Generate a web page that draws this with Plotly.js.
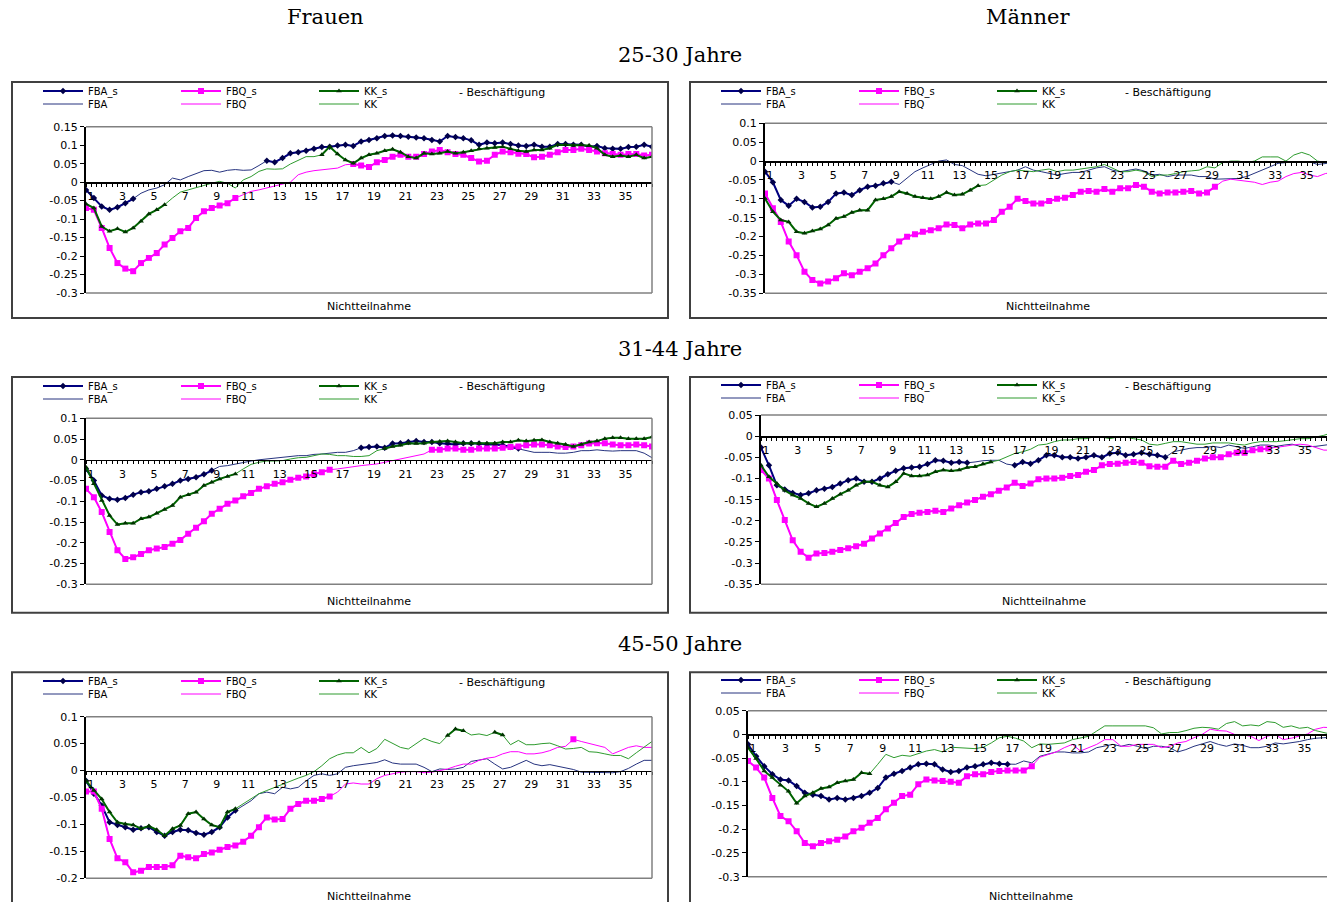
<!DOCTYPE html>
<html><head><meta charset="utf-8">
<script src="https://cdn.plot.ly/plotly-3.0.1.min.js"></script>
<style>html,body{margin:0;padding:0;background:#fff;} #chart{width:1327px;height:902px;}</style>
</head><body><div id="chart"></div>
<script>
// x positions (months of non-participation)
const months = [1,1.5,2,2.5,3,3.5,4,4.5,5,5.5,6,6.5,7,7.5,8,8.5,9,9.5,10,10.5,11,11.5,12,12.5,13,13.5,14,14.5,15,15.5,16,16.5,17,17.5,18,18.5,19,19.5,20,20.5,21,21.5,22,22.5,23,23.5,24,24.5,25,25.5,26,26.5,27,27.5,28,28.5,29,29.5,30,30.5,31,31.5,32,32.5,33,33.5,34,34.5,35,35.5,36,36.5,37];
const xTickVals = [1,3,5,7,9,11,13,15,17,19,21,23,25,27,29,31,33,35];
const xTickText = ['1','3','5','7','9','11','13','15','17','19','21','23','25','27','29','31','33','35'];

// ---- Frauen 25-30 ----
const A_FBA = [
-0.021,-0.043,-0.066,-0.075,-0.068,-0.057,-0.045,-0.030,
-0.021,-0.016,-0.007,0.011,0.006,0.015,0.023,0.031,
0.032,0.027,0.032,0.034,0.032,0.033,0.045,0.058,
0.054,0.065,0.078,0.081,0.085,0.090,0.095,0.096,
0.099,0.101,0.098,0.110,0.114,0.119,0.125,0.126,
0.125,0.123,0.121,0.119,0.114,0.110,0.125,0.122,
0.119,0.113,0.101,0.107,0.105,0.107,0.103,0.099,
0.098,0.101,0.096,0.096,0.103,0.103,0.101,0.101,
0.096,0.098,0.092,0.090,0.090,0.095,0.096,0.101,
0.096];
const A_FBQ = [
-0.070,-0.075,-0.124,-0.178,-0.219,-0.234,-0.241,-0.219,
-0.205,-0.192,-0.169,-0.151,-0.133,-0.124,-0.097,-0.079,
-0.070,-0.063,-0.057,-0.043,-0.034,-0.025,-0.021,-0.016,
-0.012,-0.005,0.000,0.020,0.027,0.031,0.033,0.036,
0.038,0.047,0.049,0.045,0.041,0.054,0.060,0.069,
0.074,0.069,0.069,0.076,0.083,0.087,0.081,0.076,
0.074,0.065,0.056,0.058,0.074,0.083,0.081,0.077,
0.076,0.067,0.069,0.074,0.081,0.087,0.087,0.090,
0.087,0.083,0.078,0.076,0.074,0.076,0.076,0.072,
0.074];
const A_KK = [
-0.059,-0.070,-0.120,-0.133,-0.126,-0.135,-0.124,-0.106,
-0.086,-0.075,-0.061,-0.043,-0.027,-0.021,-0.016,-0.009,
-0.003,0.002,-0.003,-0.016,0.006,0.015,0.029,0.036,
0.035,0.036,0.049,0.058,0.069,0.069,0.074,0.096,
0.076,0.060,0.051,0.065,0.074,0.078,0.085,0.089,
0.081,0.069,0.065,0.078,0.076,0.078,0.083,0.078,
0.081,0.085,0.090,0.092,0.094,0.096,0.090,0.085,
0.083,0.087,0.087,0.092,0.101,0.101,0.099,0.101,
0.099,0.092,0.074,0.069,0.072,0.069,0.074,0.065,
0.069];
const A_FBA_sig = [[1,4],[12.5,37]];
const A_FBQ_sig = [[1,10.5],[18,37]];
const A_KK_sig  = [[1,6],[16,37]];

// ---- Männer 25-30 ----
const B_FBA = [
-0.028,-0.056,-0.103,-0.118,-0.100,-0.108,-0.123,-0.121,
-0.108,-0.086,-0.083,-0.090,-0.077,-0.068,-0.065,-0.059,
-0.055,-0.062,-0.046,-0.028,-0.018,-0.009,0.000,0.003,
-0.009,-0.012,-0.024,-0.035,-0.039,-0.035,-0.033,-0.028,
-0.024,-0.015,-0.024,-0.028,-0.033,-0.037,-0.033,-0.030,
-0.030,-0.024,-0.018,-0.015,-0.024,-0.028,-0.024,-0.021,
-0.026,-0.037,-0.035,-0.041,-0.037,-0.037,-0.037,-0.041,
-0.041,-0.048,-0.048,-0.048,-0.046,-0.041,-0.033,-0.024,
-0.015,-0.006,-0.004,-0.002,-0.004,-0.002,-0.009,-0.006,
-0.004];
const B_FBQ = [
-0.086,-0.125,-0.161,-0.213,-0.249,-0.293,-0.315,-0.324,
-0.319,-0.310,-0.297,-0.302,-0.293,-0.284,-0.271,-0.249,
-0.231,-0.213,-0.200,-0.194,-0.187,-0.183,-0.178,-0.168,
-0.169,-0.178,-0.168,-0.165,-0.165,-0.156,-0.134,-0.121,
-0.100,-0.106,-0.112,-0.112,-0.106,-0.100,-0.097,-0.090,
-0.081,-0.079,-0.081,-0.074,-0.081,-0.072,-0.072,-0.063,
-0.068,-0.081,-0.086,-0.083,-0.083,-0.081,-0.079,-0.086,
-0.083,-0.068,-0.053,-0.048,-0.050,-0.053,-0.056,-0.062,
-0.056,-0.053,-0.041,-0.033,-0.030,-0.037,-0.041,-0.033,
-0.030];
const B_KK = [
-0.099,-0.134,-0.156,-0.161,-0.187,-0.191,-0.185,-0.180,
-0.169,-0.152,-0.147,-0.136,-0.130,-0.130,-0.103,-0.100,
-0.094,-0.081,-0.086,-0.094,-0.097,-0.100,-0.094,-0.083,
-0.090,-0.088,-0.077,-0.065,-0.063,-0.050,-0.037,-0.028,
-0.024,-0.026,-0.028,-0.024,-0.021,-0.028,-0.024,-0.024,
-0.021,-0.018,-0.015,-0.009,-0.018,-0.028,-0.028,-0.024,
-0.028,-0.041,-0.037,-0.037,-0.033,-0.028,-0.026,-0.024,
-0.015,-0.018,-0.004,0.000,0.000,-0.004,0.000,0.011,
0.011,0.011,0.000,0.016,0.023,0.016,0.000,-0.004,
-0.004];
const B_FBA_sig = [[1,9]];
const B_FBQ_sig = [[1,29.5]];
const B_KK_sig  = [[1,14.5]];

// ---- Frauen 31-44 ----
const C_FBA = [
-0.022,-0.050,-0.086,-0.094,-0.096,-0.092,-0.084,-0.078,
-0.076,-0.070,-0.064,-0.058,-0.050,-0.046,-0.042,-0.035,
-0.026,-0.016,-0.014,-0.010,-0.006,-0.003,0.000,0.002,
0.004,0.006,0.008,0.010,0.010,0.013,0.014,0.016,
0.018,0.018,0.022,0.029,0.031,0.032,0.029,0.039,
0.040,0.043,0.045,0.043,0.043,0.040,0.039,0.037,
0.040,0.040,0.039,0.037,0.037,0.035,0.031,0.027,
0.022,0.018,0.018,0.018,0.016,0.016,0.018,0.022,
0.022,0.024,0.022,0.021,0.022,0.022,0.022,0.016,
0.005];
const C_FBQ = [
-0.070,-0.090,-0.126,-0.174,-0.218,-0.239,-0.235,-0.227,
-0.218,-0.214,-0.210,-0.202,-0.193,-0.178,-0.164,-0.148,
-0.130,-0.118,-0.106,-0.098,-0.088,-0.080,-0.070,-0.064,
-0.058,-0.054,-0.048,-0.043,-0.040,-0.035,-0.030,-0.024,
-0.022,-0.019,-0.016,-0.014,-0.012,-0.010,-0.006,-0.002,
0.002,0.006,0.010,0.014,0.024,0.024,0.027,0.027,
0.024,0.024,0.027,0.027,0.027,0.029,0.031,0.032,
0.035,0.037,0.037,0.035,0.032,0.031,0.032,0.035,
0.039,0.040,0.040,0.037,0.035,0.035,0.037,0.035,
0.032];
const C_KK = [
-0.018,-0.058,-0.098,-0.134,-0.156,-0.153,-0.153,-0.142,
-0.138,-0.129,-0.120,-0.110,-0.090,-0.084,-0.078,-0.062,
-0.054,-0.046,-0.040,-0.034,-0.022,-0.011,-0.006,-0.003,
-0.003,-0.002,0.002,0.005,0.006,0.010,0.014,0.013,
0.010,0.010,0.008,0.008,0.010,0.022,0.027,0.032,
0.035,0.040,0.039,0.040,0.043,0.044,0.045,0.043,
0.040,0.040,0.040,0.040,0.040,0.043,0.043,0.047,
0.045,0.047,0.048,0.043,0.040,0.037,0.032,0.037,
0.043,0.045,0.051,0.053,0.053,0.051,0.051,0.051,
0.055];
const C_FBA_sig = [[1,9],[18.5,28.5]];
const C_FBQ_sig = [[1,16.5],[23,37]];
const C_KK_sig  = [[1,10.5],[20,37]];

// ---- Männer 31-44 ----
const D_FBA = [
-0.027,-0.069,-0.116,-0.126,-0.134,-0.139,-0.135,-0.128,
-0.124,-0.120,-0.112,-0.104,-0.100,-0.108,-0.108,-0.100,
-0.090,-0.082,-0.076,-0.074,-0.072,-0.066,-0.057,-0.058,
-0.063,-0.061,-0.063,-0.061,-0.058,-0.057,-0.057,-0.066,
-0.069,-0.061,-0.065,-0.057,-0.045,-0.045,-0.050,-0.050,
-0.053,-0.050,-0.045,-0.050,-0.041,-0.039,-0.045,-0.043,
-0.039,-0.043,-0.045,-0.050,-0.037,-0.033,-0.029,-0.027,
-0.027,-0.024,-0.027,-0.021,-0.025,-0.029,-0.025,-0.021,
-0.021,-0.024,-0.021,-0.019,-0.024,-0.025,-0.024,-0.021,
-0.019];
const D_FBQ = [
-0.080,-0.100,-0.151,-0.198,-0.246,-0.273,-0.287,-0.277,
-0.276,-0.273,-0.269,-0.265,-0.260,-0.254,-0.242,-0.230,
-0.218,-0.205,-0.191,-0.184,-0.181,-0.179,-0.176,-0.179,
-0.171,-0.163,-0.157,-0.151,-0.143,-0.137,-0.129,-0.121,
-0.110,-0.118,-0.112,-0.102,-0.100,-0.100,-0.098,-0.094,
-0.092,-0.084,-0.080,-0.069,-0.066,-0.065,-0.063,-0.061,
-0.063,-0.071,-0.072,-0.072,-0.058,-0.066,-0.063,-0.058,
-0.053,-0.050,-0.050,-0.043,-0.039,-0.039,-0.033,-0.031,
-0.029,-0.027,-0.024,-0.021,-0.019,-0.021,-0.027,-0.033,
-0.033];
const D_KK = [
-0.069,-0.096,-0.112,-0.128,-0.139,-0.147,-0.159,-0.167,
-0.159,-0.147,-0.137,-0.128,-0.116,-0.108,-0.108,-0.116,
-0.120,-0.108,-0.088,-0.094,-0.094,-0.092,-0.084,-0.080,
-0.082,-0.080,-0.074,-0.072,-0.066,-0.061,-0.057,-0.049,
-0.041,-0.037,-0.031,-0.021,-0.019,-0.013,-0.009,-0.009,
-0.006,-0.006,-0.002,-0.002,-0.006,-0.002,-0.002,-0.006,
-0.009,-0.019,-0.021,-0.017,-0.013,-0.013,-0.016,-0.019,
-0.019,-0.016,-0.016,-0.016,-0.019,-0.021,-0.016,-0.013,
-0.013,-0.013,-0.011,-0.009,-0.006,-0.006,-0.002,0.002,
0.008];
const D_FBA_sig = [[1,14],[17,26.5]];
const D_FBQ_sig = [[1,33]];
const D_KK_sig  = [[1,15.5]];

// ---- Frauen 45-50 ----
const E_FBA = [
-0.019,-0.043,-0.065,-0.096,-0.101,-0.105,-0.110,-0.107,
-0.105,-0.114,-0.121,-0.114,-0.110,-0.111,-0.116,-0.119,
-0.114,-0.105,-0.087,-0.074,-0.065,-0.056,-0.043,-0.040,
-0.043,-0.031,-0.034,-0.031,-0.019,-0.009,-0.006,-0.009,
-0.006,0.006,0.009,0.011,0.012,0.015,0.020,0.014,
0.012,0.012,0.012,0.006,-0.002,0.003,0.002,0.003,
0.006,0.017,0.019,0.022,0.012,0.003,0.006,0.012,
0.019,0.012,0.009,0.011,0.008,0.006,0.002,-0.003,
-0.003,-0.003,-0.004,-0.004,-0.002,0.004,0.012,0.019,
0.019];
const E_FBQ = [
-0.039,-0.039,-0.071,-0.127,-0.163,-0.170,-0.189,-0.186,
-0.179,-0.179,-0.179,-0.176,-0.158,-0.161,-0.163,-0.155,
-0.152,-0.147,-0.142,-0.139,-0.132,-0.121,-0.105,-0.087,
-0.091,-0.090,-0.071,-0.062,-0.056,-0.056,-0.053,-0.048,
-0.040,-0.025,-0.023,-0.025,-0.025,-0.015,-0.009,-0.006,
-0.003,-0.002,-0.002,-0.004,-0.003,0.000,0.003,0.008,
0.012,0.012,0.019,0.023,0.025,0.031,0.035,0.035,
0.031,0.031,0.033,0.037,0.043,0.045,0.058,0.054,
0.050,0.046,0.043,0.031,0.037,0.043,0.046,0.043,
0.043];
const E_KK = [
-0.019,-0.037,-0.053,-0.077,-0.096,-0.099,-0.101,-0.108,
-0.103,-0.110,-0.121,-0.108,-0.102,-0.080,-0.077,-0.090,
-0.101,-0.105,-0.077,-0.071,-0.062,-0.053,-0.043,-0.037,
-0.031,-0.025,-0.019,-0.014,-0.009,-0.002,0.009,0.022,
0.029,0.033,0.033,0.043,0.033,0.041,0.058,0.051,
0.043,0.040,0.050,0.060,0.054,0.050,0.065,0.077,
0.074,0.066,0.068,0.065,0.071,0.066,0.048,0.056,
0.048,0.048,0.050,0.051,0.046,0.040,0.041,0.043,
0.035,0.034,0.031,0.028,0.028,0.022,0.033,0.043,
0.054];
const E_FBA_sig = [[1,10.5]];
const E_FBQ_sig = [[1,16.5],[32,32]];
const E_KK_sig  = [[1,10.5],[24,25],[27,27.5]];

// ---- Männer 45-50 ----
const F_FBA = [
-0.021,-0.046,-0.067,-0.084,-0.095,-0.097,-0.109,-0.123,
-0.127,-0.130,-0.137,-0.134,-0.137,-0.134,-0.130,-0.123,
-0.113,-0.091,-0.083,-0.077,-0.070,-0.063,-0.062,-0.063,
-0.074,-0.079,-0.077,-0.070,-0.067,-0.063,-0.060,-0.062,
-0.063,-0.063,-0.056,-0.060,-0.046,-0.041,-0.037,-0.037,
-0.039,-0.039,-0.037,-0.028,-0.025,-0.021,-0.025,-0.021,
-0.025,-0.030,-0.025,-0.025,-0.028,-0.037,-0.032,-0.025,
-0.020,-0.015,-0.021,-0.025,-0.020,-0.023,-0.028,-0.028,
-0.025,-0.018,-0.020,-0.018,-0.015,-0.011,-0.008,-0.007,
-0.006];
const F_FBQ = [
-0.056,-0.070,-0.091,-0.134,-0.172,-0.183,-0.204,-0.229,
-0.236,-0.229,-0.225,-0.222,-0.215,-0.204,-0.197,-0.186,
-0.176,-0.158,-0.144,-0.130,-0.127,-0.105,-0.095,-0.097,
-0.098,-0.100,-0.102,-0.088,-0.084,-0.084,-0.079,-0.077,
-0.076,-0.076,-0.076,-0.067,-0.048,-0.042,-0.037,-0.028,
-0.021,-0.035,-0.028,-0.021,-0.011,-0.011,-0.025,-0.025,
-0.021,-0.021,-0.021,-0.028,-0.025,-0.018,-0.015,-0.007,
0.000,0.011,0.008,0.007,0.000,-0.001,-0.004,-0.013,
-0.004,0.000,-0.011,-0.008,-0.004,0.001,0.011,0.015,
0.014];
const F_KK = [
-0.028,-0.051,-0.077,-0.091,-0.107,-0.120,-0.145,-0.130,
-0.123,-0.114,-0.111,-0.102,-0.098,-0.095,-0.081,-0.083,
-0.063,-0.042,-0.049,-0.044,-0.046,-0.041,-0.035,-0.032,
-0.037,-0.027,-0.028,-0.028,-0.030,-0.027,-0.018,-0.007,
-0.004,-0.008,-0.014,-0.028,-0.020,-0.021,-0.020,-0.018,
-0.011,-0.007,-0.004,0.007,0.018,0.018,0.018,0.018,
0.018,0.018,0.014,0.001,0.004,0.004,0.008,0.013,
0.015,0.014,0.011,0.023,0.027,0.018,0.020,0.018,
0.027,0.025,0.015,0.018,0.013,0.015,0.008,0.004,
0.000];
const F_FBA_sig = [[1,17]];
const F_FBQ_sig = [[1,18.5]];
const F_KK_sig  = [[1,8.5]];

// y tick values and labels per panel
const A_yVals = [0.15,0.1,0.05,0,-0.05,-0.1,-0.15,-0.2,-0.25,-0.3];
const A_yText = ['0.15','0.1','0.05','0','-0.05','-0.1','-0.15','-0.2','-0.25','-0.3'];
const B_yVals = [0.1,0.05,0,-0.05,-0.1,-0.15,-0.2,-0.25,-0.3,-0.35];
const B_yText = ['0.1','0.05','0','-0.05','-0.1','-0.15','-0.2','-0.25','-0.3','-0.35'];
const C_yVals = [0.1,0.05,0,-0.05,-0.1,-0.15,-0.2,-0.25,-0.3];
const C_yText = ['0.1','0.05','0','-0.05','-0.1','-0.15','-0.2','-0.25','-0.3'];
const D_yVals = [0.05,0,-0.05,-0.1,-0.15,-0.2,-0.25,-0.3,-0.35];
const D_yText = ['0.05','0','-0.05','-0.1','-0.15','-0.2','-0.25','-0.3','-0.35'];
const E_yVals = [0.1,0.05,0,-0.05,-0.1,-0.15,-0.2];
const E_yText = ['0.1','0.05','0','-0.05','-0.1','-0.15','-0.2'];
const F_yVals = [0.05,0,-0.05,-0.1,-0.15,-0.2,-0.25,-0.3];
const F_yText = ['0.05','0','-0.05','-0.1','-0.15','-0.2','-0.25','-0.3'];

const legendRow1 = ['FBA_s','FBQ_s','KK_s'];
const legendRow2Std = ['FBA','FBQ','KK'];
const legendRow2D = ['FBA','FBQ','KK_s'];
const groupTitles = ['25-30 Jahre','31-44 Jahre','45-50 Jahre'];
const sexTitles = ['Frauen','Männer'];
const xTitle = 'Nichtteilnahme';
const legendExtra = '- Beschäftigung';

// ---------------- build ----------------
const W = 1327, H = 902;
const px = v => v / W;
const py = v => 1 - v / H;

const panels = [
  {fba:A_FBA,fbq:A_FBQ,kk:A_KK,sFBA:A_FBA_sig,sFBQ:A_FBQ_sig,sKK:A_KK_sig,yv:A_yVals,yt:A_yText,
   x0:86,x1:652,y0:126.7,y1:293,xr:[1,37],yr:[-0.3,0.15],fr:[12,668,82,318],leg:[38,91,104],besch:457,row2:legendRow2Std,left:true},
  {fba:B_FBA,fbq:B_FBQ,kk:B_KK,sFBA:B_FBA_sig,sFBQ:B_FBQ_sig,sKK:B_KK_sig,yv:B_yVals,yt:B_yText,
   x0:765,x1:1327,y0:123.3,y1:293.3,xr:[1,36.6],yr:[-0.35,0.1],fr:[690,1345,82,318],leg:[716,91,104],besch:1123,row2:legendRow2Std,left:false},
  {fba:C_FBA,fbq:C_FBQ,kk:C_KK,sFBA:C_FBA_sig,sFBQ:C_FBQ_sig,sKK:C_KK_sig,yv:C_yVals,yt:C_yText,
   x0:86,x1:652,y0:418.3,y1:584.3,xr:[1,37],yr:[-0.3,0.1],fr:[12,668,377,612.7],leg:[38,386,399],besch:457,row2:legendRow2Std,left:true},
  {fba:D_FBA,fbq:D_FBQ,kk:D_KK,sFBA:D_FBA_sig,sFBQ:D_FBQ_sig,sKK:D_KK_sig,yv:D_yVals,yt:D_yText,
   x0:761,x1:1327,y0:415,y1:584.3,xr:[1,36.7],yr:[-0.35,0.05],fr:[690,1345,377,612.7],leg:[716,385,398],besch:1123,row2:legendRow2D,left:false},
  {fba:E_FBA,fbq:E_FBQ,kk:E_KK,sFBA:E_FBA_sig,sFBQ:E_FBQ_sig,sKK:E_KK_sig,yv:E_yVals,yt:E_yText,
   x0:86,x1:652,y0:716.7,y1:878.3,xr:[1,37],yr:[-0.2,0.1],fr:[12,668,672.3,930],leg:[38,681,694],besch:457,row2:legendRow2Std,left:true},
  {fba:F_FBA,fbq:F_FBQ,kk:F_KK,sFBA:F_FBA_sig,sFBQ:F_FBQ_sig,sKK:F_KK_sig,yv:F_yVals,yt:F_yText,
   x0:748,x1:1327,y0:710.7,y1:876.7,xr:[1,36.7],yr:[-0.3,0.05],fr:[690,1345,672.3,930],leg:[716,680,693],besch:1123,row2:legendRow2Std,left:false}
];

function sigOnly(vals, ranges) {
  return vals.map((v, i) => ranges.some(r => months[i] >= r[0] - 1e-9 && months[i] <= r[1] + 1e-9) ? v : null);
}

const NAVY = '#000080', MAG = '#FF00FF', GRN = '#006400', GRN_T = '#2E9B2E', NAVY_T = '#26337F';
const traces = [];
const layout = {
  width: W, height: H, margin: {l:0, r:0, t:0, b:0},
  paper_bgcolor: '#fff', plot_bgcolor: 'rgba(0,0,0,0)',
  showlegend: true, shapes: [], annotations: [],
  font: {family: 'DejaVu Sans', size: 11, color: '#000'}
};
const tickFont = {family: 'DejaVu Sans', size: 11, color: '#000'};
const legFont = {family: 'DejaVu Sans', size: 10, color: '#000'};

panels.forEach((p, i) => {
  const n = i + 1;
  const xa = n === 1 ? 'x' : 'x' + n, ya = n === 1 ? 'y' : 'y' + n;
  const xk = n === 1 ? 'xaxis' : 'xaxis' + n, yk = n === 1 ? 'yaxis' : 'yaxis' + n;
  const l1 = i === 0 ? 'legend' : 'legend' + (2 * i + 1);
  const l2 = 'legend' + (2 * i + 2);
  const dy = [py(p.y1), py(p.y0)];
  const zeroPos = dy[0] + (0 - p.yr[0]) / (p.yr[1] - p.yr[0]) * (dy[1] - dy[0]);

  layout[xk] = {
    domain: [px(p.x0), Math.min(1, px(p.x1))], range: p.xr, anchor: 'free', position: zeroPos,
    showgrid: false, zeroline: false, showline: true, linecolor: '#000', linewidth: 1.5,
    ticks: 'outside', ticklen: 3, tickcolor: '#000', tickwidth: 1,
    tickvals: xTickVals, ticktext: xTickText, tickfont: tickFont, ticklabelshift: 5,
    minor: {ticks: 'outside', ticklen: 3, tickcolor: '#000', tickwidth: 1, dtick: 1/3, tick0: 1, showgrid: false},
    fixedrange: true
  };
  layout[yk] = {
    domain: dy, range: p.yr, anchor: xa,
    showgrid: false, zeroline: false, showline: true, linecolor: '#000', linewidth: 2,
    ticks: 'outside', ticklen: 4, tickcolor: '#000',
    tickvals: p.yv, ticktext: p.yt, tickfont: tickFont, fixedrange: true
  };

  // thin full-series lines
  traces.push({x: months, y: p.fba, xaxis: xa, yaxis: ya, mode: 'lines', name: p.row2[0], legend: l2,
               line: {color: NAVY_T, width: 1}});
  traces.push({x: months, y: p.fbq, xaxis: xa, yaxis: ya, mode: 'lines', name: p.row2[1], legend: l2,
               line: {color: MAG, width: 1}});
  traces.push({x: months, y: p.kk, xaxis: xa, yaxis: ya, mode: 'lines', name: p.row2[2], legend: l2,
               line: {color: GRN_T, width: 1}});
  // significant parts with markers
  traces.push({x: months, y: sigOnly(p.fba, p.sFBA), xaxis: xa, yaxis: ya, mode: 'lines+markers', name: legendRow1[0], legend: l1,
               connectgaps: false, line: {color: NAVY, width: 2}, marker: {symbol: 'diamond', size: 5, color: '#00004a'}});
  traces.push({x: months, y: sigOnly(p.fbq, p.sFBQ), xaxis: xa, yaxis: ya, mode: 'lines+markers', name: legendRow1[1], legend: l1,
               connectgaps: false, line: {color: MAG, width: 2}, marker: {symbol: 'square', size: 6, color: MAG}});
  traces.push({x: months, y: sigOnly(p.kk, p.sKK), xaxis: xa, yaxis: ya, mode: 'lines+markers', name: legendRow1[2], legend: l1,
               connectgaps: false, line: {color: GRN, width: 2}, marker: {symbol: 'triangle-up', size: 5, color: '#003300'}});

  const legBase = {xanchor: 'left', yanchor: 'middle', orientation: 'h', bgcolor: 'rgba(0,0,0,0)', borderwidth: 0,
                   font: legFont, itemwidth: 40, entrywidth: 83,
                   entrywidthmode: 'pixels', tracegroupgap: 0, itemclick: false, itemdoubleclick: false};
  layout[l1] = Object.assign({}, legBase, {x: px(p.leg[0]), y: py(p.leg[1])});
  layout[l2] = Object.assign({}, legBase, {x: px(p.leg[0]), y: py(p.leg[2])});

  // outer frame
  const f = p.fr;
  layout.shapes.push({type: 'rect', xref: 'paper', yref: 'paper', x0: px(f[0]), x1: px(f[1]), y0: py(f[3]), y1: py(f[2]),
                      line: {color: '#404040', width: 2}, fillcolor: 'rgba(0,0,0,0)', layer: 'below'});
  // plot area border (top, bottom, right)
  const dref = {xref: xa + ' domain', yref: ya + ' domain'};
  layout.shapes.push(Object.assign({type: 'line', x0: 0, x1: 1, y0: 1, y1: 1, line: {color: '#808080', width: 1.5}}, dref));
  layout.shapes.push(Object.assign({type: 'line', x0: 0, x1: 1, y0: 0, y1: 0, line: {color: '#808080', width: 1.5}}, dref));
  if (p.left) layout.shapes.push(Object.assign({type: 'line', x0: 1, x1: 1, y0: 0, y1: 1, line: {color: '#808080', width: 1.5}}, dref));

  // x-axis title and legend extra text
  const cx = p.left ? (p.x0 + p.x1) / 2 : p.x0 + 283;
  layout.annotations.push({xref: 'paper', yref: 'paper', x: px(cx), y: py(f[2] + 224), text: xTitle, showarrow: false,
                           xanchor: 'center', yanchor: 'middle', font: {family: 'DejaVu Sans', size: 11, color: '#000'}});
  layout.annotations.push({xref: 'paper', yref: 'paper', x: px(p.besch), y: py(p.leg[1] + 1), text: legendExtra, showarrow: false,
                           xanchor: 'left', yanchor: 'middle', font: {family: 'DejaVu Sans', size: 11, color: '#000'}});
});

// headings
const serif = {family: 'DejaVu Serif', size: 21, color: '#000'};
const head = (x, y, t) => ({xref: 'paper', yref: 'paper', x: px(x), y: py(y), text: t, showarrow: false,
                            xanchor: 'center', yanchor: 'middle', font: serif});
layout.annotations.push(head(325, 17, sexTitles[0]));
layout.annotations.push(head(1028, 17, sexTitles[1]));
layout.annotations.push(head(680, 55, groupTitles[0]));
layout.annotations.push(head(680, 349, groupTitles[1]));
layout.annotations.push(head(680, 644, groupTitles[2]));

Plotly.newPlot('chart', traces, layout, {displayModeBar: false, staticPlot: true});
</script>
</body></html>
